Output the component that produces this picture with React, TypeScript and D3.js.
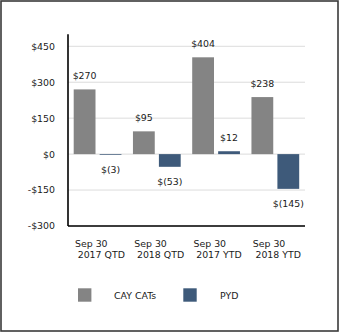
import React from "react";
import * as d3 from "d3";

const categories = ["Sep 30|2017 QTD", "Sep 30|2018 QTD", "Sep 30|2017 YTD", "Sep 30|2018 YTD"];
const seriesNames = ["CAY CATs", "PYD"];
const cayCats = [270, 95, 404, 238];
const pyd = [-3, -53, 12, -145];
const yTicks = [450, 300, 150, 0, -150, -300];
const colors = ["#848484", "#3e5a7a"];

const W = 340;
const H = 333;
const FONT = "'DejaVu Sans', sans-serif";
const FS = 9.4;

function fmtTick(v: number) {
  return v < 0 ? `-$${Math.abs(v)}` : `$${v}`;
}
function fmtLabel(v: number) {
  return v < 0 ? `$(${Math.abs(v)})` : `$${v}`;
}

export default function App() {
  const left = 68;
  const right = 305;
  const y = d3.scaleLinear().domain([-300, 500]).range([226, 34.3]);
  const x0 = d3.scaleBand<string>().domain(categories).range([left, right]).padding(0);
  const x1 = d3
    .scaleBand<string>()
    .domain(seriesNames)
    .range([5.7, x0.bandwidth() - 5.8])
    .paddingInner(0.16)
    .paddingOuter(0);
  const series = [cayCats, pyd];

  return (
    <svg
      width={W}
      height={H}
      style={{ position: "absolute", left: 0, top: 0, background: "#fff" }}
      fontFamily={FONT}
      fontSize={FS}
    >
      <rect x={0} y={0} width={W} height={H} fill="#fff" />
      <rect x={1} y={1} width={337} height={330} fill="none" stroke="#3a3a3a" strokeWidth={1.6} />
      {yTicks.map((t) => (
        <line key={t} x1={left} x2={right} y1={y(t)} y2={y(t)} stroke="#dcdcdc" strokeWidth={1} />
      ))}
      {yTicks.map((t) => (
        <text key={"l" + t} x={55} y={y(t) + 3.4} textAnchor="end" fill="#1a1a1a">
          {fmtTick(t)}
        </text>
      ))}
      {categories.map((c, i) => (
        <g key={c} transform={`translate(${x0(c)},0)`}>
          {series.map((s, j) => {
            const v = s[i];
            const bx = x1(seriesNames[j])!;
            const top = y(Math.max(0, v));
            const bot = y(Math.min(0, v));
            return (
              <g key={j}>
                <rect x={bx} y={top} width={x1.bandwidth()} height={bot - top} fill={colors[j]} />
                <text
                  x={bx + x1.bandwidth() / 2}
                  y={v >= 0 ? top - 10 : bot + 18.4}
                  textAnchor="middle"
                  fill="#1a1a1a"
                >
                  {fmtLabel(v)}
                </text>
              </g>
            );
          })}
          <text x={7} y={247.4} fill="#1a1a1a">
            {c.split("|")[0]}
          </text>
          <text x={9.7} y={257.8} fill="#1a1a1a">
            {c.split("|")[1]}
          </text>
        </g>
      ))}
      <line x1={left} x2={left} y1={y(500)} y2={y(-300)} stroke="#000" strokeWidth={1.6} />
      <line x1={left} x2={right} y1={y(-300)} y2={y(-300)} stroke="#000" strokeWidth={1.6} />
      {seriesNames.map((n, j) => (
        <g key={n}>
          <rect x={[78, 183.3][j]} y={288.3} width={13.4} height={13.4} fill={colors[j]} />
          <text x={[114, 220][j]} y={299} fill="#1a1a1a">
            {n}
          </text>
        </g>
      ))}
    </svg>
  );
}
